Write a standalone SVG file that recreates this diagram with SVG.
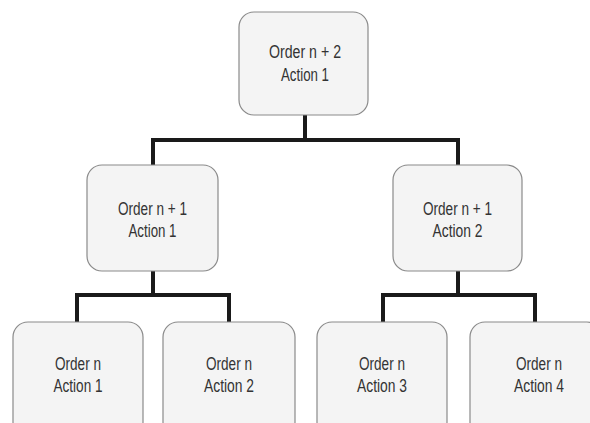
<svg xmlns="http://www.w3.org/2000/svg" width="590" height="423" viewBox="0 0 590 423">
<style>
.box{fill:#f4f4f4;stroke:#8a8a8a;stroke-width:1.2}
.lbl{font-family:"Liberation Sans",Arial,sans-serif;font-size:18px;fill:#333;text-anchor:middle}
.conn{fill:none;stroke:#1a1a1a;stroke-width:4;stroke-linejoin:miter;stroke-linecap:butt}
</style>
<rect width="590" height="423" fill="#ffffff"/>
<g id="connectors">
<path class="conn" d="M305,115 V140 M153,165 V140 H458 V165"/>
<path class="conn" d="M153,271 V295 M77,322 V295 H229 V322"/>
<path class="conn" d="M458,271 V295 M383,322 V295 H535 V322"/>
</g>
<g id="n2a1">
<rect class="box" x="239" y="12" width="129" height="103" rx="15"/>
<text class="lbl" x="305" y="58" textLength="72" lengthAdjust="spacingAndGlyphs">Order n + 2</text>
<text class="lbl" x="305" y="81" textLength="48" lengthAdjust="spacingAndGlyphs">Action 1</text>
</g>
<g id="n1a1">
<rect class="box" x="87" y="165" width="131" height="106" rx="15"/>
<text class="lbl" x="152.5" y="215" textLength="69" lengthAdjust="spacingAndGlyphs">Order n + 1</text>
<text class="lbl" x="152.5" y="237" textLength="48" lengthAdjust="spacingAndGlyphs">Action 1</text>
</g>
<g id="n1a2">
<rect class="box" x="393" y="165" width="129" height="106" rx="15"/>
<text class="lbl" x="457.5" y="215" textLength="69" lengthAdjust="spacingAndGlyphs">Order n + 1</text>
<text class="lbl" x="457.5" y="237" textLength="50" lengthAdjust="spacingAndGlyphs">Action 2</text>
</g>
<g id="na1">
<rect class="box" x="13" y="322" width="130" height="115" rx="15"/>
<text class="lbl" x="78" y="370" textLength="46" lengthAdjust="spacingAndGlyphs">Order n</text>
<text class="lbl" x="78" y="392" textLength="49" lengthAdjust="spacingAndGlyphs">Action 1</text>
</g>
<g id="na2">
<rect class="box" x="163" y="322" width="132" height="115" rx="15"/>
<text class="lbl" x="229" y="370" textLength="46" lengthAdjust="spacingAndGlyphs">Order n</text>
<text class="lbl" x="229" y="392" textLength="50" lengthAdjust="spacingAndGlyphs">Action 2</text>
</g>
<g id="na3">
<rect class="box" x="317" y="322" width="130" height="115" rx="15"/>
<text class="lbl" x="382" y="370" textLength="46" lengthAdjust="spacingAndGlyphs">Order n</text>
<text class="lbl" x="382" y="392" textLength="50" lengthAdjust="spacingAndGlyphs">Action 3</text>
</g>
<g id="na4">
<rect class="box" x="470" y="322" width="132" height="115" rx="15"/>
<text class="lbl" x="539" y="370" textLength="46" lengthAdjust="spacingAndGlyphs">Order n</text>
<text class="lbl" x="539" y="392" textLength="50" lengthAdjust="spacingAndGlyphs">Action 4</text>
</g>
</svg>
